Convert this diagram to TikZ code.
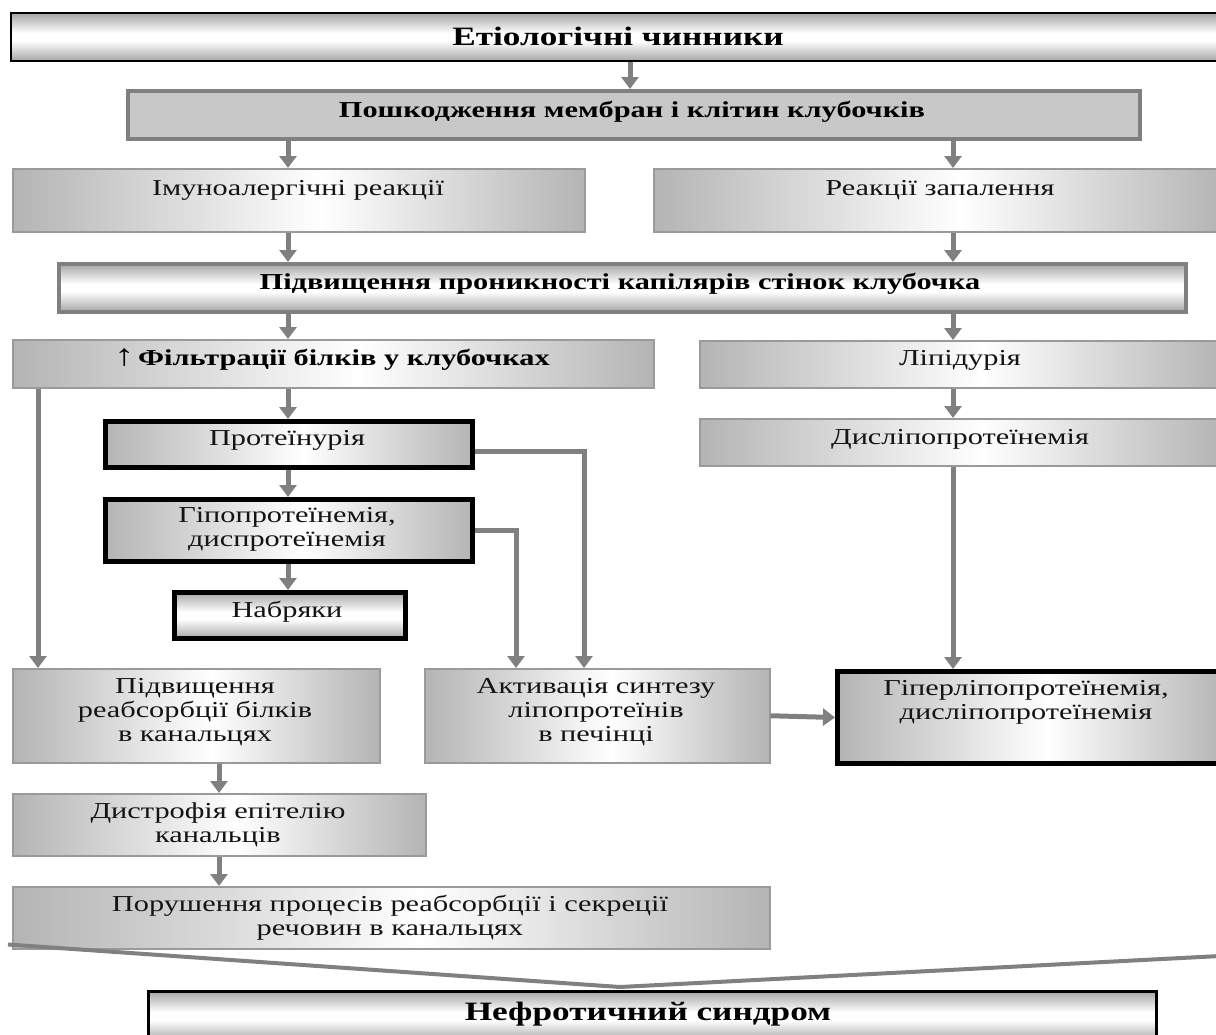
\documentclass[tikz,border=0pt]{standalone}
\usepackage{fontspec}
\setmainfont{Liberation Serif}[FakeStretch=1.33]
\usetikzlibrary{arrows.meta}
\definecolor{gL}{HTML}{B4B4B4}
\definecolor{gV}{HTML}{A6A6A6}
\definecolor{arrc}{HTML}{808080}
\definecolor{bordg}{HTML}{9A9A9A}
\definecolor{poshfill}{HTML}{C8C8C8}
\definecolor{txtc}{HTML}{141414}
\pgfdeclarehorizontalshading{hgrad}{100bp}{color(0bp)=(gL); color(25bp)=(gL); color(52bp)=(white); color(75bp)=(gL); color(100bp)=(gL)}
\pgfdeclareverticalshading{vgrad}{100bp}{color(0bp)=(gV); color(25bp)=(gV); color(46bp)=(white); color(54bp)=(white); color(75bp)=(gV); color(100bp)=(gV)}
\begin{document}
\begin{tikzpicture}[x=1pt,y=-1pt,
  base/.style={inner sep=0pt, anchor=north west, rectangle},
  hbox/.style={base, shading=hgrad, draw=bordg, line width=1.5pt},
  vbox/.style={base, shading=vgrad},
  blk/.style={draw=black, line width=5pt},
  txt/.style={inner sep=0pt, align=center, text=txtc, font=\fontsize{22.8}{24}\selectfont},
  btxt/.style={inner sep=0pt, align=center, text=black, font=\fontsize{22.8}{24}\selectfont\bfseries},
  ttxt/.style={inner sep=0pt, align=center, text=black, font=\fontsize{26.5}{28}\selectfont\bfseries},
  arr/.style={draw=arrc, line width=5pt, -{Triangle[width=17pt,length=12pt]}},
  conv/.style={draw=arrc, line width=4pt, line cap=butt}
]
\useasboundingbox (0,0) rectangle (1216,1034);
\clip (0,0) rectangle (1216,1034);

% columns
\coordinate (cM) at (630,0);
\coordinate (cL) at (288,0);
\coordinate (cR) at (953,0);
\coordinate (cA) at (38,0);
\coordinate (cP) at (584,0);
\coordinate (cQ) at (516,0);
\coordinate (cB) at (219,0);

% boxes
\node[vbox, draw=black, line width=2pt, minimum width=1212pt, minimum height=48pt] (bTop) at (10,12) {};
\node[base, fill=poshfill, draw=arrc, line width=3.5pt, minimum width=1012pt, minimum height=48pt] (bPosh) at (126,89) {};
\node[hbox, minimum width=572pt, minimum height=63pt] (bImm) at (12,168) {};
\node[hbox, minimum width=569pt, minimum height=63pt] (bZap) at (653,168) {};
\node[vbox, draw=arrc, line width=3.5pt, minimum width=1127pt, minimum height=48pt] (bPron) at (57,262) {};
\node[hbox, minimum width=641pt, minimum height=48pt] (bFil) at (12,339) {};
\node[hbox, minimum width=523pt, minimum height=47pt] (bLip) at (699,340) {};
\node[hbox, blk, minimum width=367pt, minimum height=46pt] (bProt) at (103,419) {};
\node[hbox, minimum width=523pt, minimum height=47pt] (bDis) at (699,418) {};
\node[hbox, blk, minimum width=367pt, minimum height=62pt] (bHipo) at (103,497) {};
\node[vbox, blk, minimum width=231pt, minimum height=46pt] (bNab) at (172,590) {};
\node[hbox, minimum width=367pt, minimum height=94pt] (bReab) at (12,668) {};
\node[hbox, minimum width=345pt, minimum height=94pt] (bAkt) at (424,668) {};
\node[hbox, blk, minimum width=389pt, minimum height=92pt] (bHyp) at (835,669) {};
\node[hbox, minimum width=413pt, minimum height=62pt] (bDys) at (12,793) {};
\node[hbox, minimum width=757pt, minimum height=62pt] (bPor) at (12,886) {};
\node[vbox, draw=black, line width=2.5pt, minimum width=1008pt, minimum height=50pt] (bNef) at (147,990) {};

% texts
\node[ttxt] (tTop) at (618,36) {Етіологічні чинники};
\node[btxt] (tPosh) at (632,112) {Пошкодження мембран і клітин клубочків};
\node[txt] (tImm) at (298,190) {Імуноалергічні реакції};
\node[txt] (tZap) at (940,190) {Реакції запалення};
\node[btxt] (tPron) at (620,284) {Підвищення проникності капілярів стінок клубочка};
\node[btxt] (tFil) at (332,360) {{\mdseries\fontsize{30}{24}\selectfont↑}\,Фільтрації білків у клубочках};
\node[txt] (tLip) at (960,360) {Ліпідурія};
\node[txt] (tProt) at (287,440) {Протеїнурія};
\node[txt] (tDis) at (960,439) {Дисліпопротеїнемія};
\node[txt] (tHipo) at (287,529) {Гіпопротеїнемія,\\диспротеїнемія};
\node[txt] (tNab) at (287,612) {Набряки};
\node[txt] (tReab) at (195,712) {Підвищення\\реабсорбції білків\\в канальцях};
\node[txt] (tAkt) at (596,712) {Активація синтезу\\ліпопротеїнів\\в печінці};
\node[txt] (tHyp) at (1026,702) {Гіперліпопротеїнемія,\\дисліпопротеїнемія};
\node[txt] (tDys) at (218,825) {Дистрофія епітелію\\канальців};
\node[txt] (tPor) at (390,918) {Порушення процесів реабсорбції і секреції\\речовин в канальцях};
\node[ttxt] (tNef) at (648,1014) {Нефротичний синдром};

% arrows
\draw[arr] (bTop.south -| cM) -- (bPosh.north -| cM);
\draw[arr] (bPosh.south -| cL) -- (bImm.north -| cL);
\draw[arr] (bPosh.south -| cR) -- (bZap.north -| cR);
\draw[arr] (bImm.south -| cL) -- (bPron.north -| cL);
\draw[arr] (bZap.south -| cR) -- (bPron.north -| cR);
\draw[arr] (bPron.south -| cL) -- (bFil.north -| cL);
\draw[arr] (bPron.south -| cR) -- (bLip.north -| cR);
\draw[arr] (bFil.south -| cL) -- (bProt.north -| cL);
\draw[arr] (bLip.south -| cR) -- (bDis.north -| cR);
\draw[arr] (bProt.south -| cL) -- (bHipo.north -| cL);
\draw[arr] (bHipo.south -| cL) -- (bNab.north -| cL);
\draw[arr] (bFil.south -| cA) -- (bReab.north -| cA);
\draw[arr] ([yshift=-7pt]bProt.east) -| (bAkt.north -| cP);
\draw[arr] (bHipo.east) -| (bAkt.north -| cQ);
\draw[arr] (bDis.south -| cR) -- (bHyp.north -| cR);
\draw[arr] (bAkt.east) -- (bHyp.west);
\draw[arr] (bReab.south -| cB) -- (bDys.north -| cB);
\draw[arr] (bDys.south -| cB) -- (bPor.north -| cB);

% converging lines
\coordinate (apex) at (620,987);
\coordinate (rEnd) at (1220,956);
\draw[conv] ([xshift=-4pt,yshift=5pt]bPor.south west) -- (apex);
\draw[conv] (rEnd) -- (apex);
\end{tikzpicture}
\end{document}
